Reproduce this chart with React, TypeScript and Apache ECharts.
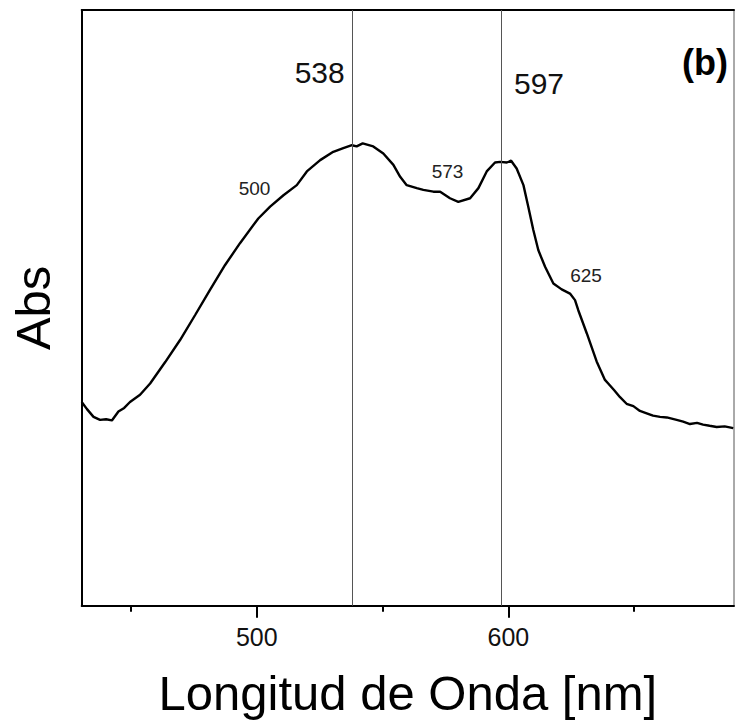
import React, { useEffect, useRef } from "react";
import * as echarts from "echarts";

// Wavelength (nm) of each sampled point of the spectrum
const wavelengths: number[] = [
  430.4, 432.5, 435.1, 437.7, 440.1, 442.4, 445.0, 447.3, 449.6, 453.6, 457.6,
  463.6, 469.5, 475.5, 481.4, 487.4, 493.4, 500.6, 505.3, 510.6, 515.9, 519.9,
  525.2, 530.4, 534.4, 537.8, 539.7, 542.1, 546.3, 550.3, 554.3, 557.0, 559.6,
  563.6, 566.2, 570.2, 572.9, 576.8, 580.1, 584.8, 588.1, 591.4, 594.7, 596.7,
  599.4, 601.1, 603.3, 606.0, 607.9, 609.9, 611.9, 614.6, 617.9, 621.2, 624.5,
  626.5, 627.8, 631.2, 635.1, 638.4, 639.7, 642.0, 644.4, 647.0, 649.7, 652.3,
  655.0, 657.5, 660.3, 663.0, 666.9, 669.5, 672.2, 675.0, 677.4, 680.0, 682.8,
  686.0, 689.4,
];
// Absorbance (arbitrary units)
const absorbance: number[] = [
  0.342, 0.330, 0.317, 0.312, 0.313, 0.311, 0.326, 0.332, 0.342, 0.354, 0.373,
  0.409, 0.446, 0.488, 0.530, 0.572, 0.609, 0.650, 0.670, 0.689, 0.706, 0.729,
  0.748, 0.762, 0.768, 0.773, 0.771, 0.776, 0.771, 0.759, 0.740, 0.720, 0.706,
  0.701, 0.698, 0.695, 0.695, 0.684, 0.678, 0.684, 0.701, 0.729, 0.744, 0.745,
  0.744, 0.747, 0.734, 0.706, 0.670, 0.631, 0.597, 0.569, 0.541, 0.531, 0.524,
  0.513, 0.496, 0.457, 0.410, 0.379, 0.373, 0.362, 0.350, 0.339, 0.335, 0.327,
  0.323, 0.319, 0.317, 0.316, 0.312, 0.309, 0.305, 0.307, 0.304, 0.302, 0.300,
  0.301, 0.298,
];
// Peak marker lines
const peakLines: number[] = [538, 597];
// Tick values
const majorTicks: number[] = [500, 600];
const minorTicks: number[] = [450, 550, 650];
// Annotation texts
const peakLabels: string[] = ["538", "597"];
const shoulderLabels: string[] = ["500", "573", "625"];
const panelLabel = "(b)";

const FONT = "'Liberation Sans', Arial, sans-serif";

export default function App() {
  const ref = useRef<HTMLDivElement>(null);
  useEffect(() => {
    document.body.style.margin = "0";
    if (!ref.current) return;
    const chart = echarts.init(ref.current, null, { renderer: "svg" });
    const data = wavelengths.map((w, i) => [w, absorbance[i]]);
    const xMin = 430.4;
    const xMax = 689.7;
    chart.setOption({
      animation: false,
      backgroundColor: "#fff",
      textStyle: { fontFamily: FONT },
      grid: {
        left: 81.7,
        right: 1,
        top: 10,
        bottom: 119.3,
        show: true,
        borderColor: "#555",
        borderWidth: 1,
      },
      xAxis: [
        {
          type: "value",
          min: xMin,
          max: xMax,
          position: "bottom",
          name: "Longitud de Onda [nm]",
          nameLocation: "middle",
          nameGap: 87.5,
          nameTextStyle: {
            fontSize: 49,
            color: "#000",
            fontFamily: FONT,
            verticalAlign: "middle",
          },
          axisLine: { show: true, onZero: false, lineStyle: { color: "#000", width: 2 } },
          axisTick: {
            show: true,
            inside: false,
            length: 12,
            customValues: majorTicks,
            lineStyle: { color: "#000", width: 2 },
          },
          axisLabel: {
            show: true,
            customValues: majorTicks,
            fontSize: 25,
            color: "#111",
            fontFamily: FONT,
            margin: 31,
            verticalAlign: "middle",
          },
          splitLine: { show: false },
        },
        {
          type: "value",
          min: xMin,
          max: xMax,
          position: "bottom",
          axisLine: { show: false },
          axisTick: {
            show: true,
            length: 6,
            customValues: minorTicks,
            lineStyle: { color: "#000", width: 2 },
          },
          axisLabel: { show: false },
          splitLine: { show: false },
        },
        {
          type: "value",
          min: xMin,
          max: xMax,
          position: "top",
          axisLine: { show: true, onZero: false, lineStyle: { color: "#000", width: 2 } },
          axisTick: { show: false },
          axisLabel: { show: false },
          splitLine: { show: false },
        },
      ],
      yAxis: {
        type: "value",
        min: 0,
        max: 1,
        name: "Abs",
        nameLocation: "middle",
        nameGap: 48.7,
        nameTextStyle: {
          fontSize: 49,
          color: "#000",
          fontFamily: FONT,
          verticalAlign: "middle",
        },
        axisLine: { show: true, onZero: false, lineStyle: { color: "#000", width: 2 } },
        axisTick: { show: false },
        axisLabel: { show: false },
        splitLine: { show: false },
      },
      series: [
        {
          type: "line",
          data,
          xAxisIndex: 0,
          showSymbol: false,
          symbol: "none",
          smooth: false,
          lineStyle: { color: "#000", width: 2.4 },
          markLine: {
            silent: true,
            symbol: "none",
            label: { show: false },
            lineStyle: { color: "#555", width: 1, type: "solid" },
            data: peakLines.map((v) => ({ xAxis: v })),
          },
        },
      ],
      graphic: [
        {
          type: "text",
          x: 319.7,
          y: 72.5,
          style: {
            text: peakLabels[0],
            font: `30px ${FONT}`,
            fill: "#111",
            align: "center",
            verticalAlign: "middle",
          },
        },
        {
          type: "text",
          x: 539,
          y: 83,
          style: {
            text: peakLabels[1],
            font: `30px ${FONT}`,
            fill: "#111",
            align: "center",
            verticalAlign: "middle",
          },
        },
        {
          type: "text",
          x: 705,
          y: 62,
          style: {
            text: panelLabel,
            font: `bold 36px ${FONT}`,
            fill: "#000",
            align: "center",
            verticalAlign: "middle",
          },
        },
        {
          type: "text",
          x: 254.5,
          y: 188,
          style: {
            text: shoulderLabels[0],
            font: `19px ${FONT}`,
            fill: "#222",
            align: "center",
            verticalAlign: "middle",
          },
        },
        {
          type: "text",
          x: 447.5,
          y: 171,
          style: {
            text: shoulderLabels[1],
            font: `19px ${FONT}`,
            fill: "#222",
            align: "center",
            verticalAlign: "middle",
          },
        },
        {
          type: "text",
          x: 586,
          y: 275.5,
          style: {
            text: shoulderLabels[2],
            font: `19px ${FONT}`,
            fill: "#222",
            align: "center",
            verticalAlign: "middle",
          },
        },
      ],
    });
    return () => chart.dispose();
  }, []);
  return <div ref={ref} style={{ width: 735, height: 725 }} />;
}
